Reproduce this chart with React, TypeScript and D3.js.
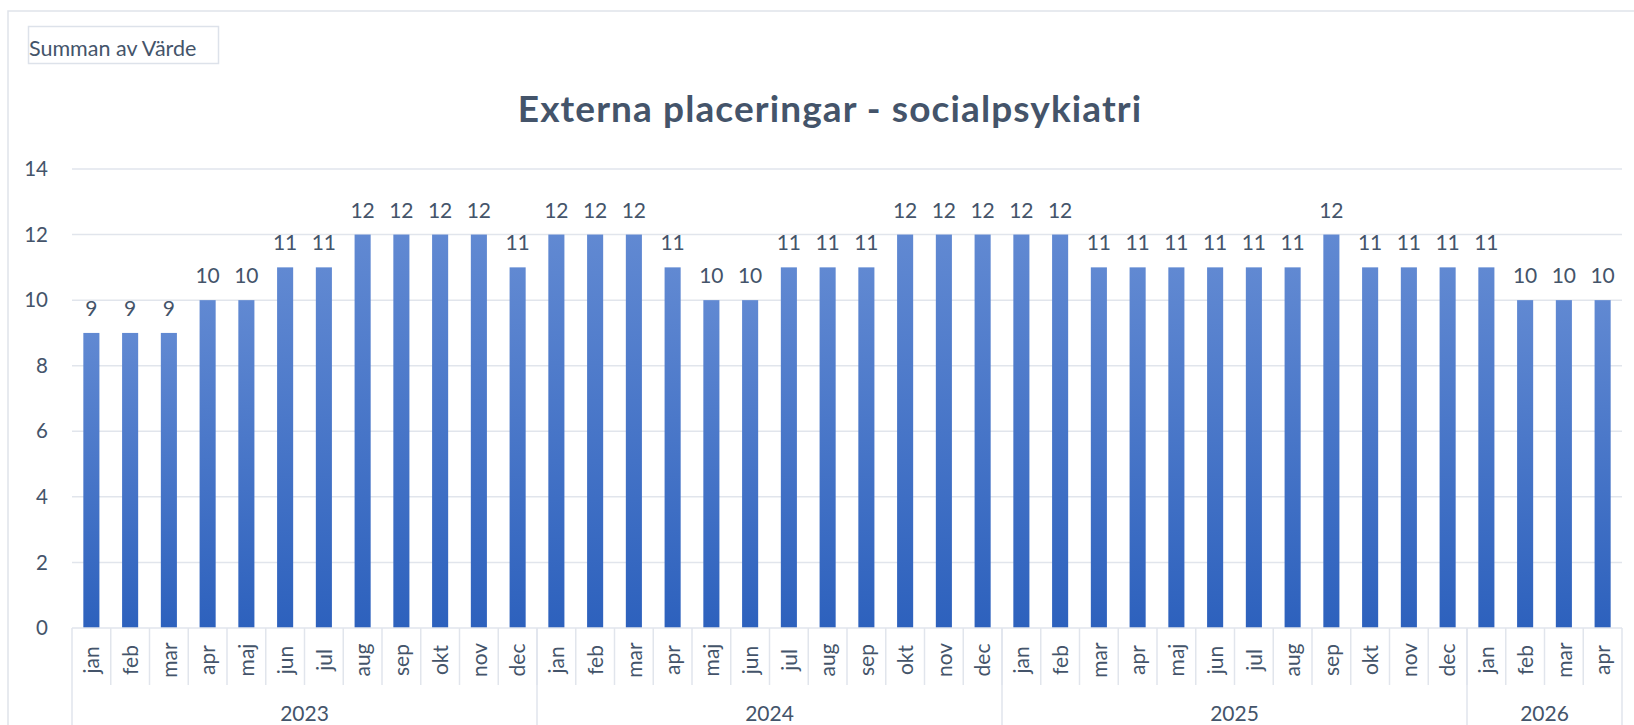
import * as d3 from "d3"

const months2023 = ["jan", "feb", "mar", "apr", "maj", "jun", "jul", "aug", "sep", "okt", "nov", "dec"]
const months2024 = ["jan", "feb", "mar", "apr", "maj", "jun", "jul", "aug", "sep", "okt", "nov", "dec"]
const months2025 = ["jan", "feb", "mar", "apr", "maj", "jun", "jul", "aug", "sep", "okt", "nov", "dec"]
const months2026 = ["jan", "feb", "mar", "apr"]

const values2023 = [9, 9, 9, 10, 10, 11, 11, 12, 12, 12, 12, 11]
const values2024 = [12, 12, 12, 11, 10, 10, 11, 11, 11, 12, 12, 12]
const values2025 = [12, 12, 11, 11, 11, 11, 11, 11, 12, 11, 11, 11]
const values2026 = [11, 10, 10, 10]

const years = ["2023", "2024", "2025", "2026"]
const yTicks = [0, 2, 4, 6, 8, 10, 12, 14]

const groups = [
  { year: years[0], months: months2023, values: values2023 },
  { year: years[1], months: months2024, values: values2024 },
  { year: years[2], months: months2025, values: values2025 },
  { year: years[3], months: months2026, values: values2026 },
]

const rows = groups.flatMap(g =>
  g.months.map((m, i) => ({ key: `${g.year}-${m}`, month: m, year: g.year, value: g.values[i] }))
)

const W = 1634
const H = 725
const margin = { left: 72, right: 12, top: 169, bottom: 97 }
const textColor = "#44546a"
const gridColor = "#e1e5ec"
const font = "Lato, 'Open Sans', sans-serif"

export default function App() {
  const x = d3.scaleBand<string>()
    .domain(rows.map(r => r.key))
    .range([margin.left, W - margin.right])
    .paddingInner(0.585)
    .paddingOuter(0.2925)

  const y = d3.scaleLinear()
    .domain([0, 14])
    .range([H - margin.bottom, margin.top])

  const step = x.step()
  const y0 = y(0)
  const left = margin.left
  const right = W - margin.right

  // year group boundaries
  let offset = 0
  const yearSpans = groups.map(g => {
    const start = left + offset * step
    offset += g.months.length
    return { year: g.year, start, end: left + offset * step }
  })

  return (
    <svg
      width={W}
      height={H}
      style={{ position: "absolute", left: 0, top: 0, background: "#fff" }}
      fontFamily={font}
    >
      <defs>
        <linearGradient id="barFill" x1="0" y1="0" x2="0" y2="1">
          <stop offset="0%" stopColor="#6189d2" />
          <stop offset="100%" stopColor="#2d61bd" />
        </linearGradient>
      </defs>

      {/* chart frame */}
      <rect x={8} y={11} width={W} height={H} fill="none" stroke="#dfe3ea" strokeWidth={1.5} />

      {/* field button */}
      <rect x={28.5} y={26.5} width={190} height={37} fill="#fff" stroke="#dde2ea" strokeWidth={1.5} />
      <text x={29} y={56} fontSize={21.5} fill={textColor}>Summan av Värde</text>

      <text x={830} y={122} textAnchor="middle" fontSize={37} letterSpacing={1.1} fontWeight={700} fill={textColor}>
        Externa placeringar - socialpsykiatri
      </text>

      {/* gridlines + y ticks */}
      {yTicks.map(t => (
        <g key={t}>
          {t > 0 && <line x1={left} x2={right} y1={y(t)} y2={y(t)} stroke={gridColor} strokeWidth={1.5} />}
          <text x={48} y={y(t)} dy="0.35em" textAnchor="end" fontSize={20.5} fill={textColor}>{t}</text>
        </g>
      ))}

      {/* bars */}
      {rows.map(r => (
        <rect
          key={r.key}
          x={x(r.key)}
          y={y(r.value)}
          width={x.bandwidth()}
          height={y0 - y(r.value)}
          fill="url(#barFill)"
        />
      ))}

      {/* data labels */}
      {rows.map(r => (
        <text
          key={"l" + r.key}
          x={(x(r.key) ?? 0) + x.bandwidth() / 2}
          y={y(r.value) - 17}
          textAnchor="middle"
          fontSize={21}
          fill={textColor}
        >
          {r.value}
        </text>
      ))}

      {/* category axis */}
      <line x1={left} x2={right} y1={y0} y2={y0} stroke={gridColor} strokeWidth={1.5} />
      {rows.map((r, i) =>
        i === 0 ? null : (
          <line key={"s" + r.key} x1={left + i * step} x2={left + i * step} y1={y0} y2={y0 + 57} stroke={gridColor} strokeWidth={1.5} />
        )
      )}
      {[left, ...yearSpans.map(s => s.end)].map((xx, i) => (
        <line key={"ys" + i} x1={xx} x2={xx} y1={y0} y2={H} stroke={gridColor} strokeWidth={1.5} />
      ))}
      {rows.map(r => {
        const cx = (x(r.key) ?? 0) + x.bandwidth() / 2 + 1
        const cy = y0 + 32
        return (
          <text
            key={"c" + r.key}
            transform={`translate(${cx},${cy}) rotate(-90)`}
            textAnchor="middle"
            dy="0.32em"
            fontSize={21}
            fill={textColor}
          >
            {r.month}
          </text>
        )
      })}
      {yearSpans.map(s => (
        <text key={s.year} x={(s.start + s.end) / 2} y={721} textAnchor="middle" fontSize={21} fill={textColor}>
          {s.year}
        </text>
      ))}
    </svg>
  )
}
